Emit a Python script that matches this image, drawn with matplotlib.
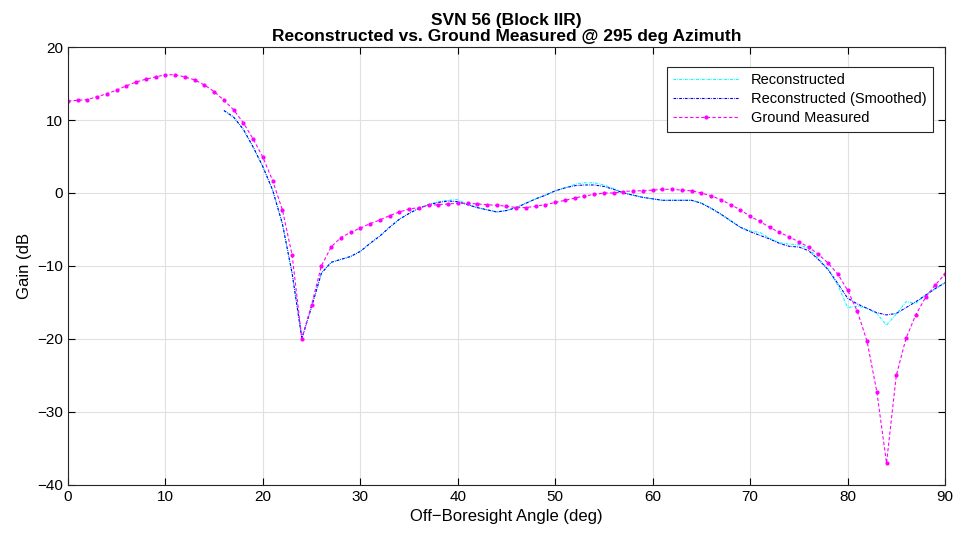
import matplotlib.pyplot as plt
import numpy as np

plt.rcParams['font.family'] = ['Liberation Sans', 'DejaVu Sans']

# ground measured, 0..90 deg in 1 deg steps
angle_gm = list(range(0, 91))
gain_gm = [12.6, 12.7, 12.8, 13.2, 13.6, 14.1, 14.7, 15.2, 15.6, 15.9,
           16.2, 16.2, 15.9, 15.5, 14.8, 13.9, 12.7, 11.4, 9.6, 7.4,
           4.9, 1.7, -2.3, -8.5, -20.0, -15.3, -10.0, -7.4, -6.1, -5.4,
           -4.8, -4.2, -3.7, -3.1, -2.6, -2.2, -2.0, -1.7, -1.6, -1.5,
           -1.4, -1.4, -1.5, -1.6, -1.7, -1.8, -2.0, -2.0, -1.8, -1.6,
           -1.3, -1.0, -0.7, -0.4, -0.2, 0.0, 0.0, 0.2, 0.3, 0.3,
           0.4, 0.5, 0.5, 0.4, 0.3, 0.0, -0.4, -0.9, -1.6, -2.3,
           -3.2, -3.9, -4.7, -5.4, -6.0, -6.7, -7.4, -8.4, -9.6, -11.1,
           -13.3, -16.2, -20.3, -27.2, -37.0, -25.0, -19.9, -16.7, -14.3, -12.6,
           -11.1]

# reconstructed, 16..90 deg
angle_rc = list(range(16, 91))
gain_rc = [11.3, 10.4, 8.7, 6.3, 3.6, 0.4, -4.2, -11.0, -19.9, -15.6,
           -11.0, -9.5, -9.1, -8.7, -8.0, -6.9, -5.9, -4.7, -3.6, -2.8,
           -2.1, -1.6, -1.2, -1.0, -0.9, -1.6, -2.0, -2.3, -2.6, -2.4,
           -2.0, -1.4, -0.8, -0.3, 0.3, 0.7, 1.2, 1.4, 1.4, 1.1,
           0.6, 0.0, -0.3, -0.6, -0.8, -1.0, -1.0, -1.0, -1.0, -1.4,
           -2.1, -2.9, -3.8, -4.7, -5.2, -5.4, -6.2, -6.8, -7.0, -7.1,
           -7.6, -9.0, -10.4, -12.6, -15.7, -15.5, -15.8, -16.5, -18.1, -16.6,
           -14.9, -15.1, -14.0, -13.1, -12.3]

# reconstructed (smoothed), 16..90 deg
gain_sm = [11.3, 10.4, 8.7, 6.3, 3.6, 0.4, -4.2, -11.0, -19.9, -15.6,
           -11.0, -9.5, -9.1, -8.7, -8.0, -6.9, -5.9, -4.7, -3.6, -2.8,
           -2.1, -1.6, -1.3, -1.1, -1.2, -1.6, -2.0, -2.3, -2.6, -2.4,
           -2.0, -1.4, -0.8, -0.3, 0.3, 0.7, 1.0, 1.1, 1.1, 0.9,
           0.5, 0.0, -0.3, -0.6, -0.8, -1.0, -1.0, -1.0, -1.0, -1.4,
           -2.1, -2.9, -3.8, -4.7, -5.3, -5.8, -6.3, -6.9, -7.3, -7.4,
           -7.9, -9.1, -10.5, -12.4, -14.4, -15.2, -15.8, -16.4, -16.7, -16.5,
           -15.7, -14.9, -14.0, -13.1, -12.3]

labels = ['Reconstructed', 'Reconstructed (Smoothed)', 'Ground Measured']

fig = plt.figure(figsize=(9.59, 5.33), dpi=100)
ax = fig.add_axes([0.0709, 0.0901, 0.9145, 0.8217])

ax.plot(angle_rc, gain_rc, color='cyan', lw=0.8, dashes=(2.5, 1, 0.6, 1),
        label=labels[0])
ax.plot(angle_rc, gain_sm, color='blue', lw=0.8, dashes=(2.5, 1, 0.6, 1),
        label=labels[1])
ax.plot(angle_gm, gain_gm, color='magenta', lw=0.8, dashes=(3, 2), marker='.',
        markersize=4, label=labels[2])

ax.set_xlim(0, 90)
ax.set_ylim(-40, 20)
ax.set_xticks(np.arange(0, 91, 10))
ax.set_yticks(np.arange(-40, 21, 10))
ax.grid(True, color='#e0e0e0', lw=0.8)
ax.set_axisbelow(True)
ax.tick_params(direction='in', top=True, right=True, labelsize=11, length=5)
for s in ax.spines.values():
    s.set_linewidth(0.8)
    s.set_color('#262626')

ax.set_xlabel('Off\u2212Boresight Angle (deg)', fontsize=12)
ax.set_ylabel('Gain (dB', fontsize=12)
ax.set_title('SVN 56 (Block IIR)\nReconstructed vs. Ground Measured @ 295 deg Azimuth',
             fontsize=12.5, fontweight='bold', linespacing=1.15, pad=4)

leg = ax.legend(loc='upper right', bbox_to_anchor=(0.986, 0.955), fontsize=10.5,
                fancybox=False, framealpha=1, edgecolor='#262626',
                handlelength=4.5, borderaxespad=0, labelspacing=0.35,
                borderpad=0.45)
leg.get_frame().set_linewidth(0.8)

fig.savefig('out.png', dpi=100)
